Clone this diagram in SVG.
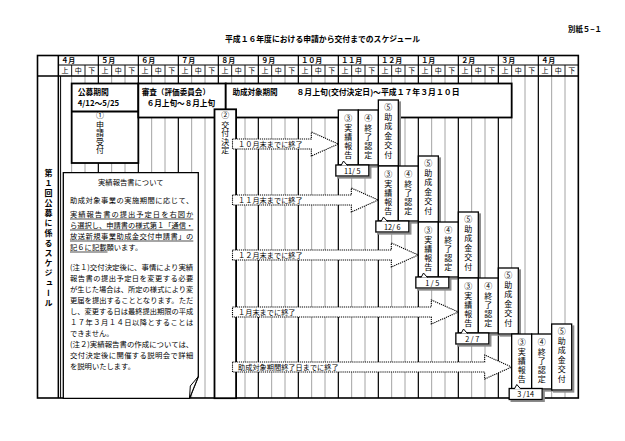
<svg xmlns="http://www.w3.org/2000/svg" width="625" height="441" viewBox="0 0 625 441">
<defs>
<style>
text{font-family:"Noto Sans CJK JP","Noto Sans",sans-serif;fill:#000}
.b{font-weight:bold}
.h{font-size:7px}
.bx{fill:#fff;stroke:#000;stroke-width:1.3}
.bk{fill:#fff;stroke:#000;stroke-width:1.8}
.g{stroke:#9a9a9a;stroke-width:0.9;fill:none}
.m{stroke:#000;stroke-width:1.2;fill:none}
.arr{fill:#fff;stroke:#000;stroke-width:1.1;stroke-dasharray:1.2 0.9}
.v{font-size:8px;text-anchor:middle}
.at{font-size:7.2px}
.nt{font-size:7.3px}
.ul{stroke:#000;stroke-width:0.7}
.lb{font-size:7.3px;text-anchor:middle}
</style>
<filter id="sh" x="-20%" y="-10%" width="150%" height="130%">
<feOffset in="SourceAlpha" dx="1.5" dy="1.5" result="o"/>
<feFlood flood-color="#8a8a8a"/>
<feComposite in2="o" operator="in"/>
<feMerge><feMergeNode/><feMergeNode in="SourceGraphic"/></feMerge>
</filter>
</defs>
<rect width="625" height="441" fill="#fff"/>

<g id="title">
<text x="225" y="42.3" class="b" font-size="8" textLength="195" lengthAdjust="spacingAndGlyphs">平成１６年度における申請から交付までのスケジュール</text>
<text x="568" y="32.3" class="b" font-size="7.5" textLength="34" lengthAdjust="spacingAndGlyphs">別紙５−１</text>
</g>

<g id="grid">
<path class="g" d="M71.67 76V398M85 76V398M111.67 76V398M125 76V398M151.67 76V398M165 76V398M191.67 76V398M205 76V398M231.67 76V398M245 76V398M271.67 76V398M285 76V398M311.67 76V398M325 76V398M351.67 76V398M365 76V398M391.67 76V398M405 76V398M431.67 76V398M445 76V398M471.67 76V398M485 76V398M511.67 76V398M525 76V398M551.67 76V398M565 76V398"/>
<path class="m" d="M98.33 55.5V398M138.33 55.5V398M178.33 55.5V398M218.33 55.5V398M258.33 55.5V398M298.33 55.5V398M338.33 55.5V398M378.33 55.5V398M418.33 55.5V398M458.33 55.5V398M498.33 55.5V398M538.33 55.5V398"/>
<path stroke="#000" stroke-width="0.9" fill="none" d="M71.67 65V76M85 65V76M111.67 65V76M125 65V76M151.67 65V76M165 65V76M191.67 65V76M205 65V76M231.67 65V76M245 65V76M271.67 65V76M285 65V76M311.67 65V76M325 65V76M351.67 65V76M365 65V76M391.67 65V76M405 65V76M431.67 65V76M445 65V76M471.67 65V76M485 65V76M511.67 65V76M525 65V76M551.67 65V76M565 65V76"/>
<path stroke="#000" stroke-width="1" fill="none" d="M58.33 65H578.33M60.6 76V398"/>
<path stroke="#000" stroke-width="1.5" fill="none" d="M37.5 76H578.33M58.33 55.5V398"/>
<rect x="37.5" y="55.5" width="540.83" height="342.5" fill="none" stroke="#000" stroke-width="1.6"/>
<g class="h b">
<text x="61.3" y="62.8">４月</text><text x="101.3" y="62.8">５月</text><text x="141.3" y="62.8">６月</text><text x="181.3" y="62.8">７月</text><text x="221.3" y="62.8">８月</text><text x="261.3" y="62.8">９月</text><text x="301.3" y="62.8">１０月</text><text x="341.3" y="62.8">１１月</text><text x="381.3" y="62.8">１２月</text><text x="421.3" y="62.8">１月</text><text x="461.3" y="62.8">２月</text><text x="501.3" y="62.8">３月</text><text x="541.3" y="62.8">４月</text>
</g>
<g class="h" text-anchor="middle">
<text x="65 78.33 91.67" y="73">上中下</text><text x="105 118.33 131.67" y="73">上中下</text><text x="145 158.33 171.67" y="73">上中下</text><text x="185 198.33 211.67" y="73">上中下</text><text x="225 238.33 251.67" y="73">上中下</text><text x="265 278.33 291.67" y="73">上中下</text><text x="305 318.33 331.67" y="73">上中下</text><text x="345 358.33 371.67" y="73">上中下</text><text x="385 398.33 411.67" y="73">上中下</text><text x="425 438.33 451.67" y="73">上中下</text><text x="465 478.33 491.67" y="73">上中下</text><text x="505 518.33 531.67" y="73">上中下</text><text x="545 558.33 571.67" y="73">上中下</text>
</g>
<text x="48.5" y="169" class="b" font-size="8" style="writing-mode:vertical-rl" letter-spacing="2">第１回公募に係るスケジュール</text>
</g>

<g id="note">
<path class="bx" d="M63.3 172.7H198.3V376.5L189.5 398.3H63.3Z"/>
<path fill="#fff" stroke="#000" stroke-width="1" d="M198.3 376.5L190.3 386L189.5 398.3Z"/>
<g class="nt">
<text x="130.8" y="184.5" text-anchor="middle">実績報告書について</text>
<text x="70" y="203" textLength="123.3" lengthAdjust="spacing">助成対象事業の実施期間に応じて、</text>
<text x="70" y="216.5" textLength="123.3" lengthAdjust="spacing">実績報告書の提出予定日を右図か</text>
<text x="70" y="227.5" textLength="123.3" lengthAdjust="spacingAndGlyphs">ら選択し、申請書の様式第１「通信・</text>
<text x="70" y="238.5" textLength="123.3" lengthAdjust="spacing">放送新規事業助成金交付申請書」の</text>
<text x="70" y="249.5">記６に記載願います。</text>
<text x="70" y="269.5" textLength="123.3" lengthAdjust="spacingAndGlyphs">(注１)交付決定後に、事情により実績</text>
<text x="70" y="280.8" textLength="123.3" lengthAdjust="spacing">報告書の提出予定日を変更する必要</text>
<text x="70" y="291.8" textLength="123.3" lengthAdjust="spacingAndGlyphs">が生じた場合は、所定の様式により変</text>
<text x="70" y="303" textLength="123.3" lengthAdjust="spacingAndGlyphs">更届を提出することとなります。ただ</text>
<text x="70" y="314" textLength="123.3" lengthAdjust="spacingAndGlyphs">し、変更する日は最終提出期限の平成</text>
<text x="70" y="325" textLength="123.3" lengthAdjust="spacing">１７年３月１４日以降とすることは</text>
<text x="70" y="336">できません。</text>
<text x="70" y="347" textLength="123.3" lengthAdjust="spacingAndGlyphs">(注２)実績報告書の作成については、</text>
<text x="70" y="358" textLength="123.3" lengthAdjust="spacing">交付決定後に開催する説明会で詳細</text>
<text x="70" y="369">を説明いたします。</text>
</g>
<path class="ul" d="M70 219H193.3M70 230H193.3M70 241H193.3M70 252H107.5"/>
</g>

<g id="koubo">
<rect class="bk" x="71.67" y="83.5" width="66.66" height="79.5"/>
<path stroke="#000" stroke-width="1.8" d="M71.67 111.5H138.33"/>
<text x="77.7" y="94.5" class="b" font-size="7.8">公募期間</text>
<text x="77.7" y="106" class="b" font-size="7.8">4/12〜5/25</text>
<text class="v" x="100 100 100 100 100" y="118 127.5 136.3 144.8 153.3">①申請受付</text>
</g>

<g id="shinsa">
<rect class="bk" x="138.33" y="83.5" width="87.4" height="34"/>
<text x="141.7" y="94.5" class="b" font-size="7.6">審査（評価委員会）</text>
<text x="146.7" y="106" class="b" font-size="7.6">６月上旬〜８月上旬</text>
</g>

<g id="josei">
<rect class="bk" x="225.73" y="83.5" width="285.94" height="34"/>
<text x="232.5" y="94.5" class="b" font-size="7.6" textLength="45" lengthAdjust="spacing">助成対象期間</text>
<text x="296.5" y="94.5" class="b" font-size="7.6" textLength="163" lengthAdjust="spacingAndGlyphs">８月上旬(交付決定日)〜平成１７年３月１０日</text>
</g>

<g id="koufu">
<rect class="bk" x="214.5" y="109.3" width="21.6" height="288.9"/>
<text class="v" x="225.3 225.3 225.3 225.3 225.3" y="118 127.5 136.3 144.8 153.3">②交付決定</text>
</g>

<g id="connectors">
<polygon class="arr" points="232.5,139 311.33,139 311.33,132 338.33,144 311.33,156 311.33,149 232.5,149"/>
<text x="238" y="146.6" class="at">１０月末までに終了</text>
<polygon class="arr" points="232.5,195 351.33,195 351.33,188 378.33,200 351.33,212 351.33,205 232.5,205"/>
<text x="238" y="202.6" class="at">１１月末までに終了</text>
<polygon class="arr" points="232.5,250 391.33,250 391.33,243 418.33,255 391.33,267 391.33,260 232.5,260"/>
<text x="238" y="257.6" class="at">１２月末までに終了</text>
<polygon class="arr" points="232.5,307 431.33,307 431.33,300 458.33,312 431.33,324 431.33,317 232.5,317"/>
<text x="238" y="314.6" class="at">１月末までに終了</text>
<polygon class="arr" points="232.5,362 484.67,362 484.67,355 511.67,367 484.67,379 484.67,372 232.5,372"/>
<text x="238" y="369.6" class="at">助成対象期間終了日までに終了</text>
</g>

<g id="row1">
<rect class="bx" filter="url(#sh)" x="338.33" y="110" width="20" height="55"/>
<rect class="bx" filter="url(#sh)" x="358.33" y="110" width="20" height="55"/>
<rect class="bx" filter="url(#sh)" x="378.33" y="100" width="20" height="66"/>
<text class="v" x="348.33 348.33 348.33 348.33 348.33" y="121.3 130.5 139.5 148.5 157.5">③実績報告</text>
<text class="v" x="368.33 368.33 368.33 368.33 368.33" y="121.3 130.5 139.5 148.5 157.5">④終了認定</text>
<text class="v" x="388.33 388.33 388.33 388.33 388.33 388.33" y="109.7 119.5 129 138.5 148 157.5">⑤助成金交付</text>
<rect class="bx" filter="url(#sh)" x="335.83" y="165" width="33" height="11"/>
<path fill="#fff" stroke="#000" stroke-width="1" d="M341 165.6L343.5 161L347.5 165.6"/>
<text class="lb" x="352.3" y="173.5">11/ 5</text>
</g>

<g id="row2">
<rect class="bx" filter="url(#sh)" x="378.33" y="166" width="20" height="55"/>
<rect class="bx" filter="url(#sh)" x="398.33" y="166" width="20" height="55"/>
<rect class="bx" filter="url(#sh)" x="418.33" y="156" width="20" height="66"/>
<text class="v" x="388.33 388.33 388.33 388.33 388.33" y="177.3 186.5 195.5 204.5 213.5">③実績報告</text>
<text class="v" x="408.33 408.33 408.33 408.33 408.33" y="177.3 186.5 195.5 204.5 213.5">④終了認定</text>
<text class="v" x="428.33 428.33 428.33 428.33 428.33 428.33" y="165.7 175.5 185 194.5 204 213.5">⑤助成金交付</text>
<rect class="bx" filter="url(#sh)" x="375.83" y="221" width="33" height="11"/>
<path fill="#fff" stroke="#000" stroke-width="1" d="M381 221.6L383.5 217L387.5 221.6"/>
<text class="lb" x="392.3" y="229.5">12/ 6</text>
</g>

<g id="row3">
<rect class="bx" filter="url(#sh)" x="418.33" y="222" width="20" height="55"/>
<rect class="bx" filter="url(#sh)" x="438.33" y="222" width="20" height="55"/>
<rect class="bx" filter="url(#sh)" x="458.33" y="212" width="20" height="66"/>
<text class="v" x="428.33 428.33 428.33 428.33 428.33" y="233.3 242.5 251.5 260.5 269.5">③実績報告</text>
<text class="v" x="448.33 448.33 448.33 448.33 448.33" y="233.3 242.5 251.5 260.5 269.5">④終了認定</text>
<text class="v" x="468.33 468.33 468.33 468.33 468.33 468.33" y="221.7 231.5 241 250.5 260 269.5">⑤助成金交付</text>
<rect class="bx" filter="url(#sh)" x="415.83" y="277" width="33" height="11"/>
<path fill="#fff" stroke="#000" stroke-width="1" d="M421 277.6L423.5 273L427.5 277.6"/>
<text class="lb" x="432.3" y="285.5">1 / 5</text>
</g>

<g id="row4">
<rect class="bx" filter="url(#sh)" x="458.33" y="278" width="20" height="55"/>
<rect class="bx" filter="url(#sh)" x="478.33" y="278" width="20" height="55"/>
<rect class="bx" filter="url(#sh)" x="498.33" y="268" width="20" height="66"/>
<text class="v" x="468.33 468.33 468.33 468.33 468.33" y="289.3 298.5 307.5 316.5 325.5">③実績報告</text>
<text class="v" x="488.33 488.33 488.33 488.33 488.33" y="289.3 298.5 307.5 316.5 325.5">④終了認定</text>
<text class="v" x="508.33 508.33 508.33 508.33 508.33 508.33" y="277.7 287.5 297 306.5 316 325.5">⑤助成金交付</text>
<rect class="bx" filter="url(#sh)" x="455.83" y="333" width="33" height="11"/>
<path fill="#fff" stroke="#000" stroke-width="1" d="M461 333.6L463.5 329L467.5 333.6"/>
<text class="lb" x="472.3" y="341.5">2 / 7</text>
</g>

<g id="row5">
<rect class="bx" filter="url(#sh)" x="511.67" y="334" width="20" height="55"/>
<rect class="bx" filter="url(#sh)" x="531.67" y="334" width="20" height="55"/>
<rect class="bx" filter="url(#sh)" x="551.67" y="324" width="20" height="66"/>
<text class="v" x="521.67 521.67 521.67 521.67 521.67" y="345.3 354.5 363.5 372.5 381.5">③実績報告</text>
<text class="v" x="541.67 541.67 541.67 541.67 541.67" y="345.3 354.5 363.5 372.5 381.5">④終了認定</text>
<text class="v" x="561.67 561.67 561.67 561.67 561.67 561.67" y="333.7 343.5 353 362.5 372 381.5">⑤助成金交付</text>
<rect class="bx" filter="url(#sh)" x="509.17" y="388.5" width="33" height="11"/>
<path fill="#fff" stroke="#000" stroke-width="1" d="M514.3 389.1L516.8 384.5L520.8 389.1"/>
<text class="lb" x="525.7" y="397">3 /14</text>
</g>
</svg>
